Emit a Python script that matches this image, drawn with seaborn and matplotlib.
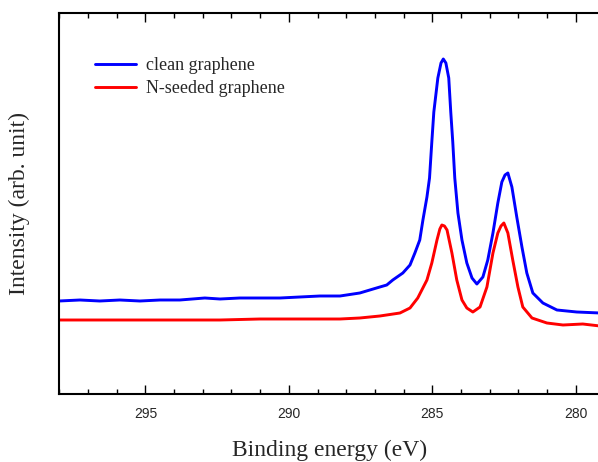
import matplotlib
matplotlib.use("Agg")
import matplotlib.pyplot as plt
import seaborn as sns
import pandas as pd
from matplotlib.ticker import MultipleLocator

# ---- data (binding energy in eV, intensity in arb. units) ----
clean_energy = [298.01, 297.28, 296.59, 295.89, 295.19, 294.49, 293.80, 292.93, 292.40,
                291.71, 291.01, 290.31, 289.62, 288.92, 288.22, 287.53, 287.18, 286.83,
                286.59, 286.38, 286.03, 285.78, 285.61, 285.44, 285.33, 285.19, 285.10,
                285.02, 284.95, 284.81, 284.70, 284.62, 284.53, 284.43, 284.36, 284.29,
                284.22, 284.11, 283.97, 283.80, 283.62, 283.45, 283.24, 283.07, 282.89,
                282.72, 282.58, 282.47, 282.37, 282.23, 282.06, 281.88, 281.71, 281.50,
                281.15, 280.66, 279.97, 279.16]
clean_intensity = [93, 94, 93, 94, 93, 94, 94, 96, 95,
                   96, 96, 96, 97, 98, 98, 101, 104, 107,
                   109, 114, 121, 129, 141, 154, 174, 197, 216,
                   252, 282, 316, 331, 335, 331, 316, 282, 252,
                   216, 181, 154, 131, 116, 110, 117, 134, 161,
                   191, 212, 219, 221, 207, 177, 147, 121, 101,
                   91, 84, 82, 81]

nseed_energy = [298.01, 296.59, 295.19, 293.80, 292.40, 291.01, 289.62, 288.22, 287.53,
                286.83, 286.13, 285.78, 285.51, 285.19, 285.02, 284.84, 284.74, 284.67,
                284.58, 284.49, 284.32, 284.15, 283.97, 283.80, 283.59, 283.34, 283.10,
                282.89, 282.72, 282.61, 282.51, 282.37, 282.20, 282.02, 281.85, 281.53,
                281.01, 280.45, 279.76, 279.16]
nseed_intensity = [74, 74, 74, 74, 74, 75, 75, 75, 76,
                   78, 81, 86, 96, 114, 131, 154, 165, 169,
                   168, 164, 141, 114, 94, 86, 82, 87, 107,
                   141, 161, 168, 171, 161, 134, 107, 87, 76,
                   71, 69, 70, 68]

series_names = ["clean graphene", "N-seeded graphene"]
series_colors = ["#0000ff", "#ff0000"]
x_ticks = [295, 290, 285, 280]

df = pd.concat([
    pd.DataFrame({"energy": clean_energy, "intensity": clean_intensity, "sample": series_names[0]}),
    pd.DataFrame({"energy": nseed_energy, "intensity": nseed_intensity, "sample": series_names[1]}),
], ignore_index=True)

sns.set_theme(style="white")
plt.rcParams["font.family"] = ["Liberation Serif", "DejaVu Serif"]

fig = plt.figure(figsize=(5.98, 4.62), dpi=100)
ax = fig.add_axes([59 / 598, 68 / 462, 541 / 598, 381 / 462])

sns.lineplot(data=df, x="energy", y="intensity", hue="sample", hue_order=series_names,
             palette=series_colors, estimator=None, sort=False, linewidth=2.1, ax=ax)

ax.set_xlim(298.01, 279.16)
ax.set_ylim(0, 381)

ax.set_xticks(x_ticks)
ax.xaxis.set_minor_locator(MultipleLocator(1))
ax.set_yticks([])
ax.tick_params(axis="x", which="both", direction="in", top=True, bottom=True, width=1.0, color="black")
ax.tick_params(axis="x", which="major", length=6.5, pad=9, labelsize=10)
ax.tick_params(axis="x", which="minor", length=3.5)
for lab in ax.get_xticklabels():
    lab.set_fontfamily(["Liberation Sans", "DejaVu Sans"])

for side in ["left", "bottom", "top"]:
    ax.spines[side].set_visible(True)
    ax.spines[side].set_color("black")
    ax.spines[side].set_linewidth(1.5)
ax.spines["right"].set_visible(False)

ax.set_xlabel("Binding energy (eV)", fontsize=17, labelpad=14)
ax.set_ylabel("Intensity (arb. unit)", fontsize=17, labelpad=21)

handles, labels = ax.get_legend_handles_labels()
ax.legend(handles, labels, loc="upper left", bbox_to_anchor=(0.049, 0.908), frameon=False,
          fontsize=13, handlelength=2.3, handletextpad=0.55, labelspacing=0.35, borderpad=0)

fig.savefig("out.png", dpi=100)
